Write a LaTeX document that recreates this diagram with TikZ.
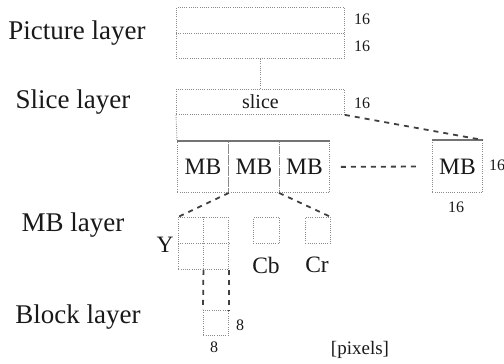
\documentclass[tikz,border=0pt]{standalone}
\usepackage{fontspec}
\setmainfont{Liberation Serif}
\begin{document}
\begin{tikzpicture}[x=1pt,y=-1pt,
  dotline/.style={draw=black!45, line width=0.9pt, dash pattern=on 0.9pt off 1.3pt},
  dotbox/.style={dotline, rectangle, inner sep=0pt, anchor=north west},
  dashline/.style={draw=black!75, line width=1.8pt, dash pattern=on 5pt off 5pt},
  solidline/.style={draw=black!55, line width=1.3pt},
  lbl/.style={text=black!90, inner sep=0pt, font=\fontsize{27}{30}\selectfont},
  num/.style={text=black!90, inner sep=0pt, font=\fontsize{16}{18}\selectfont},
  mbtxt/.style={text=black!90, font=\fontsize{23.5}{26}\selectfont}]
\useasboundingbox[fill=white] (0,0) rectangle (504,364);
% layer labels
\node[lbl] (lpic) at (77,33) {Picture layer};
\node[lbl] (lsl) at (73,102) {Slice layer};
\node[lbl] (lmb) at (73,225) {MB layer};
\node[lbl] (lblk) at (78,317) {Block layer};
% picture layer
\node[dotbox, minimum width=168pt, minimum height=51pt] (pic) at (176,7) {};
\draw[dotline] (pic.west) -- (pic.east);
\node[num] (p16a) at (362,19) {16};
\node[num] (p16b) at (362,46) {16};
% slice layer
\node[dotbox, minimum width=168pt, minimum height=25pt, font=\fontsize{20}{24}\selectfont, text=black!90] (slice) at (176,89) {slice};
\node[num] (s16) at (362,103) {16};
\draw[dotline] (pic.south) -- (slice.north);
% MBs
\node[dotbox, minimum width=51pt, minimum height=51pt, mbtxt] (mb1) at (177,141) {MB};
\node[dotbox, minimum width=51pt, minimum height=51pt, mbtxt] (mb2) at (228,141) {MB};
\node[dotbox, minimum width=50pt, minimum height=51pt, mbtxt] (mb3) at (279,141) {MB};
\node[dotbox, minimum width=50pt, minimum height=52pt, mbtxt] (mb4) at (432,140) {MB};
\draw[solidline] (mb1.north west) -- (mb3.north east);
\draw[solidline] (mb4.north west) -- (mb4.north east);
\draw[dotline] (slice.south west) -- (mb1.north west);
\draw[dashline] (slice.south east) -- (mb4.north east);
\draw[dashline, shorten <=11pt, shorten >=14pt] (mb3.east) -- (mb4.west);
\node[num] (m16a) at (497,165) {16};
\node[num] (m16b) at (456,207) {16};
% MB layer
\node[dotbox, minimum width=50pt, minimum height=52pt] (Y) at (178,217) {};
\draw[dotline] (Y.north) -- (Y.south);
\draw[dotline] (Y.west) -- (Y.east);
\node[dotbox, minimum width=26pt, minimum height=26pt] (cb) at (253,217) {};
\node[dotbox, minimum width=25pt, minimum height=26pt] (cr) at (305,217) {};
\node[mbtxt, inner sep=0pt] (ylab) at (165,245) {Y};
\node[mbtxt, inner sep=0pt] (cblab) at (266,265) {Cb};
\node[mbtxt, inner sep=0pt] (crlab) at (317,265) {Cr};
\draw[dashline] (mb1.south east) -- (Y.north west);
\draw[dashline] (mb3.south west) -- (cr.north east);
% block layer
\node[dotbox, minimum width=25pt, minimum height=25pt] (blk) at (203,310) {};
\draw[dashline] (Y.south) -- (blk.north west);
\draw[dashline] (Y.south east) -- (blk.north east);
\node[num] (b8a) at (240,325) {8};
\node[num] (b8b) at (214,347) {8};
\node[text=black!90, inner sep=0pt, font=\fontsize{19}{22}\selectfont] (px) at (360,350) {[pixels]};
\end{tikzpicture}
\end{document}
